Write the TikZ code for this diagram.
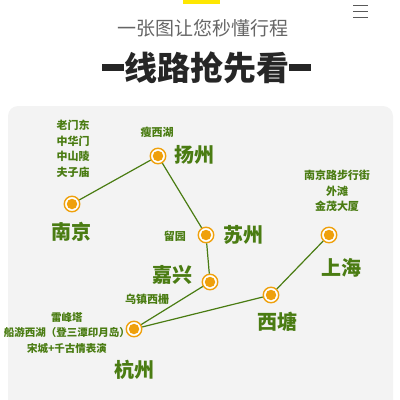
\documentclass[tikz,border=0pt]{standalone}
\usepackage{fontspec}
\newfontfamily\cjk{Noto Sans CJK SC}
\usepackage{tikz}
\usepackage{xcolor}
\definecolor{leafgreen}{HTML}{4A7C12}
\definecolor{stoporange}{HTML}{EFA00B}
\definecolor{panelgray}{HTML}{F3F3F3}
\tikzset{
  stop/.style={circle,fill=stoporange,minimum size=10.5pt,inner sep=0pt},
  ring/.style={circle,draw=stoporange,line width=1.4pt,fill=white,minimum size=15.5pt,inner sep=0pt},
  city/.style={text=leafgreen,font=\cjk\bfseries\fontsize{20}{22}\selectfont},
  spot/.style={text=leafgreen,font=\cjk\bfseries\fontsize{11}{15.5}\selectfont,align=center},
  route/.style={draw=leafgreen,line width=1.2pt}
}

\begin{document}
\begin{tikzpicture}[x=1pt,y=-1pt]
  \useasboundingbox (0,0) rectangle (400,400);
  % header
  \fill[yellow!90!orange] (183,0) rectangle (220,4);
  \foreach \y in {5,11,17} \draw[gray!70!black,line width=1pt] (353,\y) -- (368,\y);
  \node[text=gray!80!black,font=\cjk\fontsize{19}{21}\selectfont] (subtitle) at (203,28) {一张图让您秒懂行程};
  \node[text=black!85,font=\cjk\bfseries\fontsize{33}{35}\selectfont] (title) at (207,68)
    {\rule[10pt]{22pt}{6.5pt}线路抢先看\rule[10pt]{22pt}{6.5pt}};
  % map panel
  \fill[panelgray,rounded corners=10pt] (8,106) rectangle (393,410);

  % stops
  \foreach \name/\x/\y in {nanjing/72/204,yangzhou/158/156,suzhou/206/235,jiaxing/210/282,
                           hangzhou/134/329,xitang/271/295,shanghai/329/235}{
    \node[ring] (\name) at (\x,\y) {};
  }
  % route
  \draw[route] (nanjing) -- (yangzhou) -- (suzhou) -- (jiaxing) -- (hangzhou) -- (xitang) -- (shanghai);
  \foreach \name in {nanjing,yangzhou,suzhou,jiaxing,hangzhou,xitang,shanghai}
    \node[stop] at (\name) {};

  % city names
  \node[city] (nanjinglbl) at (72,232) {南京};
  \node[city] (yangzhoulbl) at (195,155) {扬州};
  \node[city] (suzhoulbl) at (243,235) {苏州};
  \node[city] (jiaxinglbl) at (172,275) {嘉兴};
  \node[city] (hangzhoulbl) at (134,370) {杭州};
  \node[city] (xitanglbl) at (277,322) {西塘};
  \node[city] (shanghailbl) at (341,268) {上海};

  % sights
  \node[spot] (nanjingspots) at (73,149) {老门东\\中华门\\中山陵\\夫子庙};
  \node[spot] (shouxihu) at (157,132) {瘦西湖};
  \node[spot] (liuyuan) at (175,236) {留园};
  \node[spot] (wuzhen) at (147,299) {乌镇西栅};
  \node[spot,font=\cjk\bfseries\fontsize{10.5}{15.5}\selectfont] (hangzhouspots) at (67,333) {雷峰塔\\船游西湖（登三潭印月岛）\\宋城+千古情表演};
  \node[spot] (shanghaispots) at (337,191) {南京路步行街\\外滩\\金茂大厦};
\end{tikzpicture}
\end{document}
